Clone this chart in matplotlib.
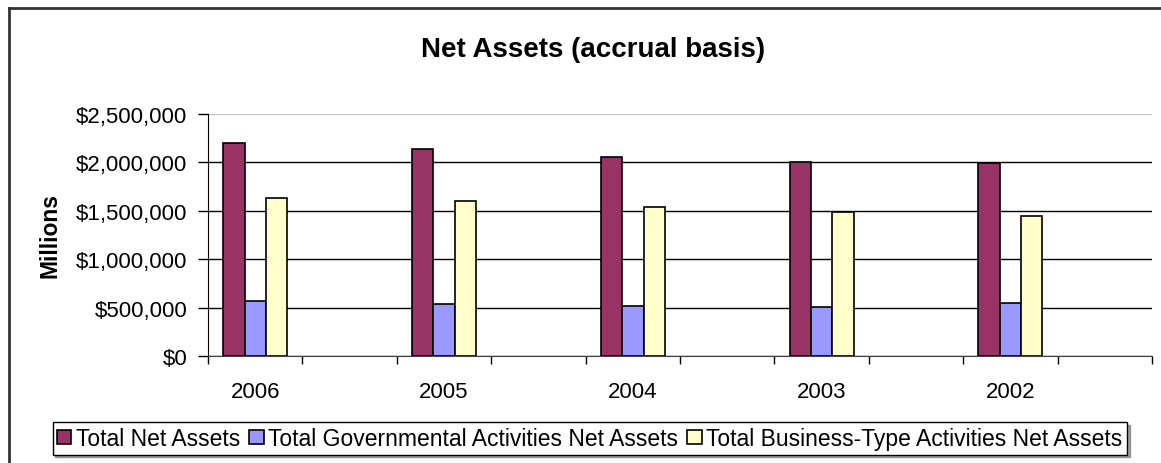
import matplotlib.pyplot as plt
from matplotlib.lines import Line2D
from matplotlib.ticker import FuncFormatter

plt.rcParams['font.family'] = ['Liberation Sans', 'DejaVu Sans']

years = ["2006", "2005", "2004", "2003", "2002"]
total_net = [2200000, 2135000, 2059000, 2007000, 1994000]
governmental = [568000, 534000, 517000, 503000, 548000]
business_type = [1632000, 1601000, 1542000, 1491000, 1450000]

series_names = ["Total Net Assets",
                "Total Governmental Activities Net Assets",
                "Total Business-Type Activities Net Assets"]
colors = ["#993366", "#9999FF", "#FFFFCC"]

fig = plt.figure(figsize=(11.61, 4.64), dpi=100)
ax = fig.add_axes([0.1792, 0.2306, 0.8131, 0.5216])

# every year sits in its own slot, followed by an empty slot
w = 0.226
centers = [2 * i + 0.5 for i in range(len(years))]
for k, (vals, name, c) in enumerate(zip([total_net, governmental, business_type],
                                        series_names, colors)):
    xs = [x + (k - 1) * w for x in centers]
    ax.bar(xs, vals, width=w, color=c, edgecolor="black", linewidth=1.2,
           label=name, zorder=3)

ax.set_xlim(0, 2 * len(years))
ax.set_ylim(0, 2500000)
ax.set_yticks(range(0, 2500001, 500000))
ax.yaxis.set_major_formatter(FuncFormatter(lambda v, p: "${:,.0f}".format(v)))

ax.set_xticks(range(0, 2 * len(years) + 1))
ax.set_xticklabels([])
ax.set_xticks(centers, minor=True)
ax.set_xticklabels(years, minor=True)
ax.tick_params(axis="x", which="major", length=6, width=1, direction="out")
ax.tick_params(axis="x", which="minor", length=0, pad=18, labelsize=16)
ax.tick_params(axis="y", length=7, width=1, direction="out", pad=8, labelsize=16)

ax.yaxis.grid(True, color="black", linewidth=1)
ax.get_ygridlines()[-1].set_color("#c8c8c8")
ax.set_axisbelow(True)

for s in ["top", "right"]:
    ax.spines[s].set_visible(False)
ax.spines["left"].set_color("black")
ax.spines["bottom"].set_color("#444444")

ax.set_ylabel("Millions", fontsize=16.5, fontweight="bold", labelpad=10)

fig.text(0.511, 0.893, "Net Assets (accrual basis)", ha="center", va="center",
         fontsize=20, fontweight="bold")

leg = fig.legend(loc="center", bbox_to_anchor=(0.508, 0.0528), ncol=3,
                 fontsize=16.5, frameon=True, fancybox=False, shadow=True,
                 handlelength=0.62, handleheight=0.62, handletextpad=0.2,
                 columnspacing=0.4, borderpad=0.2, borderaxespad=0)
leg.get_frame().set_edgecolor("black")
leg.get_frame().set_linewidth(1)

# outer chart border
fig.add_artist(Line2D([0.00775, 1.0], [0.9806, 0.9806], color="#333333",
                      linewidth=2, transform=fig.transFigure))
fig.add_artist(Line2D([0.00775, 0.00775], [0.0, 0.9806], color="#333333",
                      linewidth=2, transform=fig.transFigure))

fig.savefig("out.png", dpi=100)
